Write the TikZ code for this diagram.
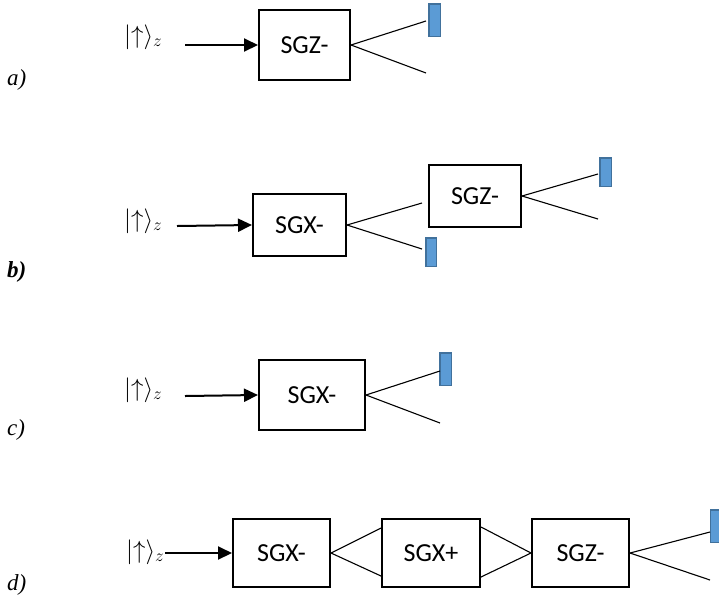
\documentclass[tikz,border=0pt]{standalone}
\usepackage{fontspec}
\newfontfamily\boxfont{Carlito}
\newfontfamily\labfont{Liberation Serif}
\usetikzlibrary{arrows.meta,calc}
\definecolor{detfill}{HTML}{5B9BD5}
\definecolor{detdraw}{HTML}{41719C}
\begin{document}
\begin{tikzpicture}[x=1pt,y=-1pt,
  sgbox/.style={draw,line width=2pt,inner sep=0pt,font=\boxfont\fontsize{26}{30}\selectfont},
  beam/.style={line width=1.1pt},
  inarrow/.style={line width=2pt,-{Triangle[length=14pt,width=13pt]}},
  det/.style={draw=detdraw,fill=detfill,line width=1.5pt,inner sep=0pt},
  ket/.style={anchor=west,inner sep=0pt,font=\fontsize{25}{30}\selectfont},
  plabel/.style={anchor=west,inner sep=0pt,font=\labfont\itshape\fontsize{23}{27}\selectfont}]
\useasboundingbox (0,0) rectangle (719,598);

% ---------- a)
\node[plabel] (la) at (7,80) {a)};
\node[ket] (ka) at (124,37) {$|{\uparrow}\rangle_z$};
\node[sgbox,minimum width=91pt,minimum height=70pt] (a1) at (304.5,45) {SGZ-};
\coordinate (a0) at (185,45);
\coordinate (au) at (426,21);
\coordinate (ad) at (426,73);
\node[det,minimum width=11.5pt,minimum height=32.5pt] (adet) at (434.5,20) {};
\draw[inarrow] (a0) -- (a1.west);
\draw[beam] (a1.east) -- (au);
\draw[beam] (a1.east) -- (ad);

% ---------- b)
\node[plabel,font=\labfont\bfseries\itshape\fontsize{23}{27}\selectfont] (lb) at (7,272) {b)};
\node[ket] (kb) at (124,221) {$|{\uparrow}\rangle_z$};
\node[sgbox,minimum width=93pt,minimum height=62pt] (b1) at (299.5,225) {SGX-};
\node[sgbox,minimum width=92pt,minimum height=62pt] (b2) at (475,196) {SGZ-};
\coordinate (b0) at (177,226);
\coordinate (b1u) at (422,203);
\coordinate (b1d) at (422,249);
\coordinate (b2u) at (598,174);
\coordinate (b2d) at (598,219);
\node[det,minimum width=10.5pt,minimum height=28.5pt] (bdet1) at (431,252) {};
\node[det,minimum width=11.5pt,minimum height=28.5pt] (bdet2) at (605.5,172) {};
\draw[inarrow] (b0) -- (b1.west);
\draw[beam] (b1.east) -- (b1u);
\draw[beam] (b1.east) -- (b1d);
\draw[beam] (b2.east) -- (b2u);
\draw[beam] (b2.east) -- (b2d);

% ---------- c)
\node[plabel] (lc) at (7,430) {c)};
\node[ket] (kc) at (124,390) {$|{\uparrow}\rangle_z$};
\node[sgbox,minimum width=106pt,minimum height=70pt] (c1) at (312,395) {SGX-};
\coordinate (c0) at (185,396);
\coordinate (cu) at (440,371);
\coordinate (cd) at (440,423);
\node[det,minimum width=11.5pt,minimum height=32.5pt] (cdet) at (445.5,369) {};
\draw[inarrow] (c0) -- (c1.west);
\draw[beam] (c1.east) -- (cu);
\draw[beam] (c1.east) -- (cd);

% ---------- d)
\node[plabel] (ld) at (7,585) {d)};
\node[ket] (kd) at (126,552) {$|{\uparrow}\rangle_z$};
\node[sgbox,minimum width=97pt,minimum height=68pt] (d1) at (281.5,553) {SGX-};
\node[sgbox,minimum width=98pt,minimum height=68pt] (d2) at (431,553) {SGX+};
\node[sgbox,minimum width=97pt,minimum height=68pt] (d3) at (580.5,553) {SGZ-};
\coordinate (d0) at (165,553);
\coordinate (du) at (710,532);
\coordinate (dd) at (710,580);
\node[det,minimum width=13.5pt,minimum height=32.5pt] (ddet) at (717,526) {};
\draw[inarrow] (d0) -- (d1.west);
\draw[beam] (d1.east) -- ($(d2.west)+(0,-25)$);
\draw[beam] (d1.east) -- ($(d2.west)+(0,23)$);
\draw[beam] ($(d2.east)+(0,-26)$) -- (d3.west);
\draw[beam] ($(d2.east)+(0,24)$) -- (d3.west);
\draw[beam] (d3.east) -- (du);
\draw[beam] (d3.east) -- (dd);
\end{tikzpicture}
\end{document}
